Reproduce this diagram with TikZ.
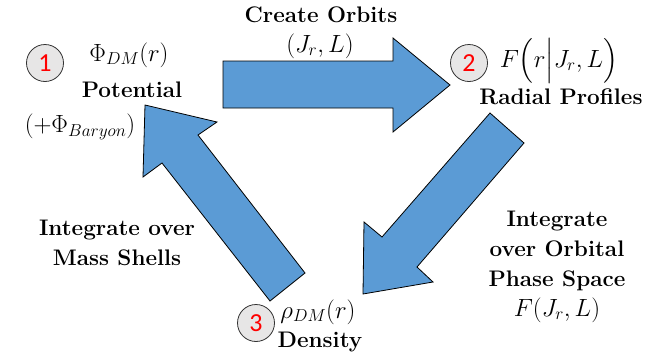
\documentclass[tikz,border=0pt]{standalone}
\usepackage{amsmath}
\usepackage{fontspec}
\newfontfamily\carlito{Carlito}
\definecolor{arrowblue}{HTML}{5B9BD5}
\definecolor{circfill}{HTML}{E7E6E6}
\begin{document}
\begin{tikzpicture}[x=1pt,y=-1pt,
  blockarrow/.style={fill=arrowblue,draw=black,line width=0.8pt,line join=miter},
  numcirc/.style={circle,draw=black!80,fill=circfill,line width=0.8pt,minimum size=37pt,inner sep=0pt,font=\carlito\fontsize{26}{28}\selectfont,text=red},
  lbl/.style={font=\bfseries\fontsize{22.5}{30}\selectfont,align=center,inner sep=0pt},
  mlbl/.style={font=\fontsize{23}{30}\selectfont,inner sep=0pt}]
\useasboundingbox (0,0) rectangle (670,360);
% block arrows
\draw[blockarrow] (223,61) -- (393,61) -- (393,38) -- (450,85) -- (393,132) -- (393,108) -- (223,108) -- cycle;
\draw[blockarrow] (490,113) -- (524,143) -- (417,267) -- (433,282) -- (363,294) -- (364,222) -- (382,237) -- cycle;
\draw[blockarrow] (305,273) -- (198,135) -- (217,122) -- (145,105) -- (143,177) -- (162,163) -- (270,301) -- cycle;
% circles
\node[numcirc] (c1) at (45,63) {1};
\node[numcirc] (c2) at (469,63) {2};
\node[numcirc] (c3) at (256,323) {3};
% labels
\node[mlbl] (phi) at (129,55) {$\Phi_{DM}(r)$};
\node[lbl] (pot) at (132,90) {Potential};
\node[mlbl] (bar) at (80,127) {$(+\Phi_{Baryon})$};
\node[lbl] (create) at (321,15) {Create Orbits};
\node[mlbl] (jl) at (320,46) {$(J_r,L)$};
\node[mlbl] (F) at (559,61) {$F\Bigl(r\Big|J_r,L\Bigr)$};
\node[lbl] (rad) at (561,97) {Radial Profiles};
\node[mlbl] (rho) at (318,312) {$\rho_{DM}(r)$};
\node[lbl] (dens) at (320,342) {Density};
\node[lbl] (intorb) at (557,251) {Integrate\\over Orbital\\Phase Space};
\node[mlbl] (FJ) at (557,310) {$F(J_r,L)$};
\node[lbl] (intmass) at (117,243) {Integrate over\\Mass Shells};
\end{tikzpicture}
\end{document}
